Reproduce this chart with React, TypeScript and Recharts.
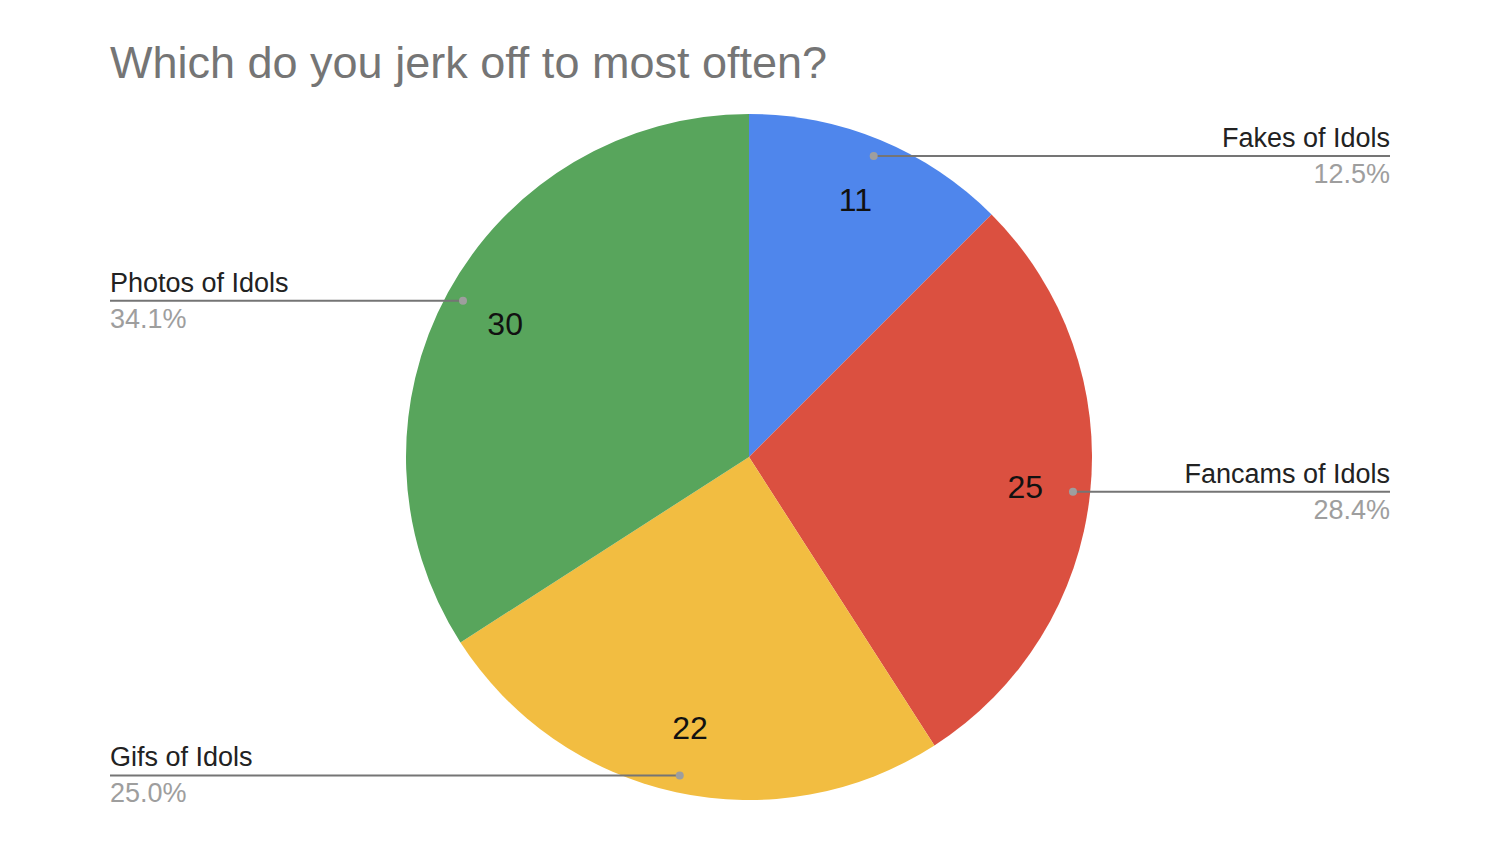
import React from 'react';
import { PieChart, Pie, Cell } from 'recharts';

const categories = ['Fakes of Idols', 'Fancams of Idols', 'Gifs of Idols', 'Photos of Idols'];
const counts = [11, 25, 22, 30];
const colors = ['#4f86ec', '#db5040', '#f2bd41', '#58a55c'];

const data = categories.map((name, i) => ({ name, value: counts[i] }));

const RAD = Math.PI / 180;
const FONT = '"Liberation Sans", Arial, sans-serif';

const renderLabel = (props: any) => {
  const { cx, cy, midAngle, outerRadius, value, name, percent } = props;
  const cos = Math.cos(-midAngle * RAD);
  const sin = Math.sin(-midAngle * RAD);
  // value inside the slice
  const vx = cx + outerRadius * 0.81 * cos;
  const vy = cy + outerRadius * 0.81 * sin;
  // leader dot near the rim
  const dx = cx + outerRadius * 0.95 * cos;
  const dy = cy + outerRadius * 0.95 * sin;
  const right = cos >= 0;
  const ex = right ? 1390 : 110;
  const anchor = right ? 'end' : 'start';
  return (
    <g>
      <text x={vx} y={vy} fill="#111" fontSize={32} fontFamily={FONT} textAnchor="middle" dominantBaseline="central">
        {value}
      </text>
      <line x1={dx} y1={dy} x2={ex} y2={dy} stroke="#757575" strokeWidth={2} />
      <circle cx={dx} cy={dy} r={4} fill="#9e9e9e" />
      <text x={ex} y={dy - 9} fill="#222" fontSize={27} fontFamily={FONT} textAnchor={anchor}>
        {name}
      </text>
      <text x={ex} y={dy + 27} fill="#9e9e9e" fontSize={27} fontFamily={FONT} textAnchor={anchor}>
        {(percent * 100).toFixed(1)}%
      </text>
    </g>
  );
};

export default function App() {
  return (
    <div style={{ position: 'absolute', left: 0, top: 0, width: 1500, height: 843, background: '#fff' }}>
      <div
        style={{
          position: 'absolute',
          left: 110,
          top: 40,
          fontFamily: FONT,
          fontSize: 45,
          color: '#757575',
          lineHeight: 1,
          whiteSpace: 'nowrap',
        }}
      >
        Which do you jerk off to most often?
      </div>
      <PieChart width={1500} height={843} margin={{ top: 0, right: 0, bottom: 0, left: 0 }}>
        <Pie
          data={data}
          dataKey="value"
          nameKey="name"
          cx={749}
          cy={457}
          outerRadius={343}
          startAngle={90}
          endAngle={-270}
          stroke="none"
          label={renderLabel}
          labelLine={false}
          isAnimationActive={false}
        >
          {data.map((d, i) => (
            <Cell key={d.name} fill={colors[i]} />
          ))}
        </Pie>
      </PieChart>
    </div>
  );
}
